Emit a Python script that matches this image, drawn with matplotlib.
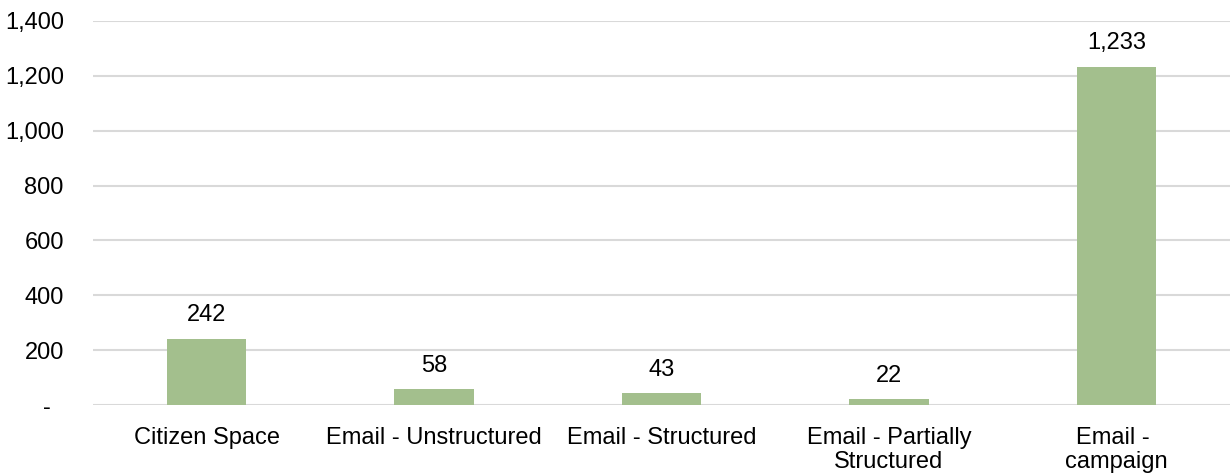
import numpy as np
import matplotlib.pyplot as plt
from matplotlib.ticker import FuncFormatter

plt.rcParams['font.family'] = ['Liberation Sans', 'DejaVu Sans']

## DATA
categorias = ["Citizen Space", "Email - Unstructured", "Email - Structured",
              "Email - Partially\nStructured", "Email - \ncampaign"]
respostas = [242, 58, 43, 22, 1233]

## GRAPH
fig = plt.figure(figsize=(12.3, 4.75), dpi=100)
ax = fig.add_axes([0.0756, 0.147, 0.9244, 0.809])

x = np.arange(len(categorias))
ax.bar(x, respostas, width=0.35, color="#a3bf8d", zorder=3)

# value labels above the bars
for xi, v in zip(x, respostas):
    ax.annotate(f"{v:,}", (xi, v), xytext=(0, 9), textcoords="offset points",
                ha="center", va="bottom", fontsize=17, color="#000000")

ax.set_xlim(-0.5, len(categorias) - 0.5)
ax.set_ylim(0, 1400)
ax.set_yticks(np.arange(0, 1401, 200))
ax.yaxis.set_major_formatter(FuncFormatter(lambda v, p: "-  " if v == 0 else f"{int(v):,}"))
ax.set_xticks(x)
ax.set_xticklabels(categorias, fontsize=17, linespacing=1.07)
ax.tick_params(axis="y", labelsize=17, length=0, pad=21)
ax.tick_params(axis="x", length=0, pad=16)

ax.grid(axis="y", color="#d9d9d9", linewidth=1.5, zorder=0)
for s in ax.spines.values():
    s.set_visible(False)

fig.savefig("out.png", dpi=100)
